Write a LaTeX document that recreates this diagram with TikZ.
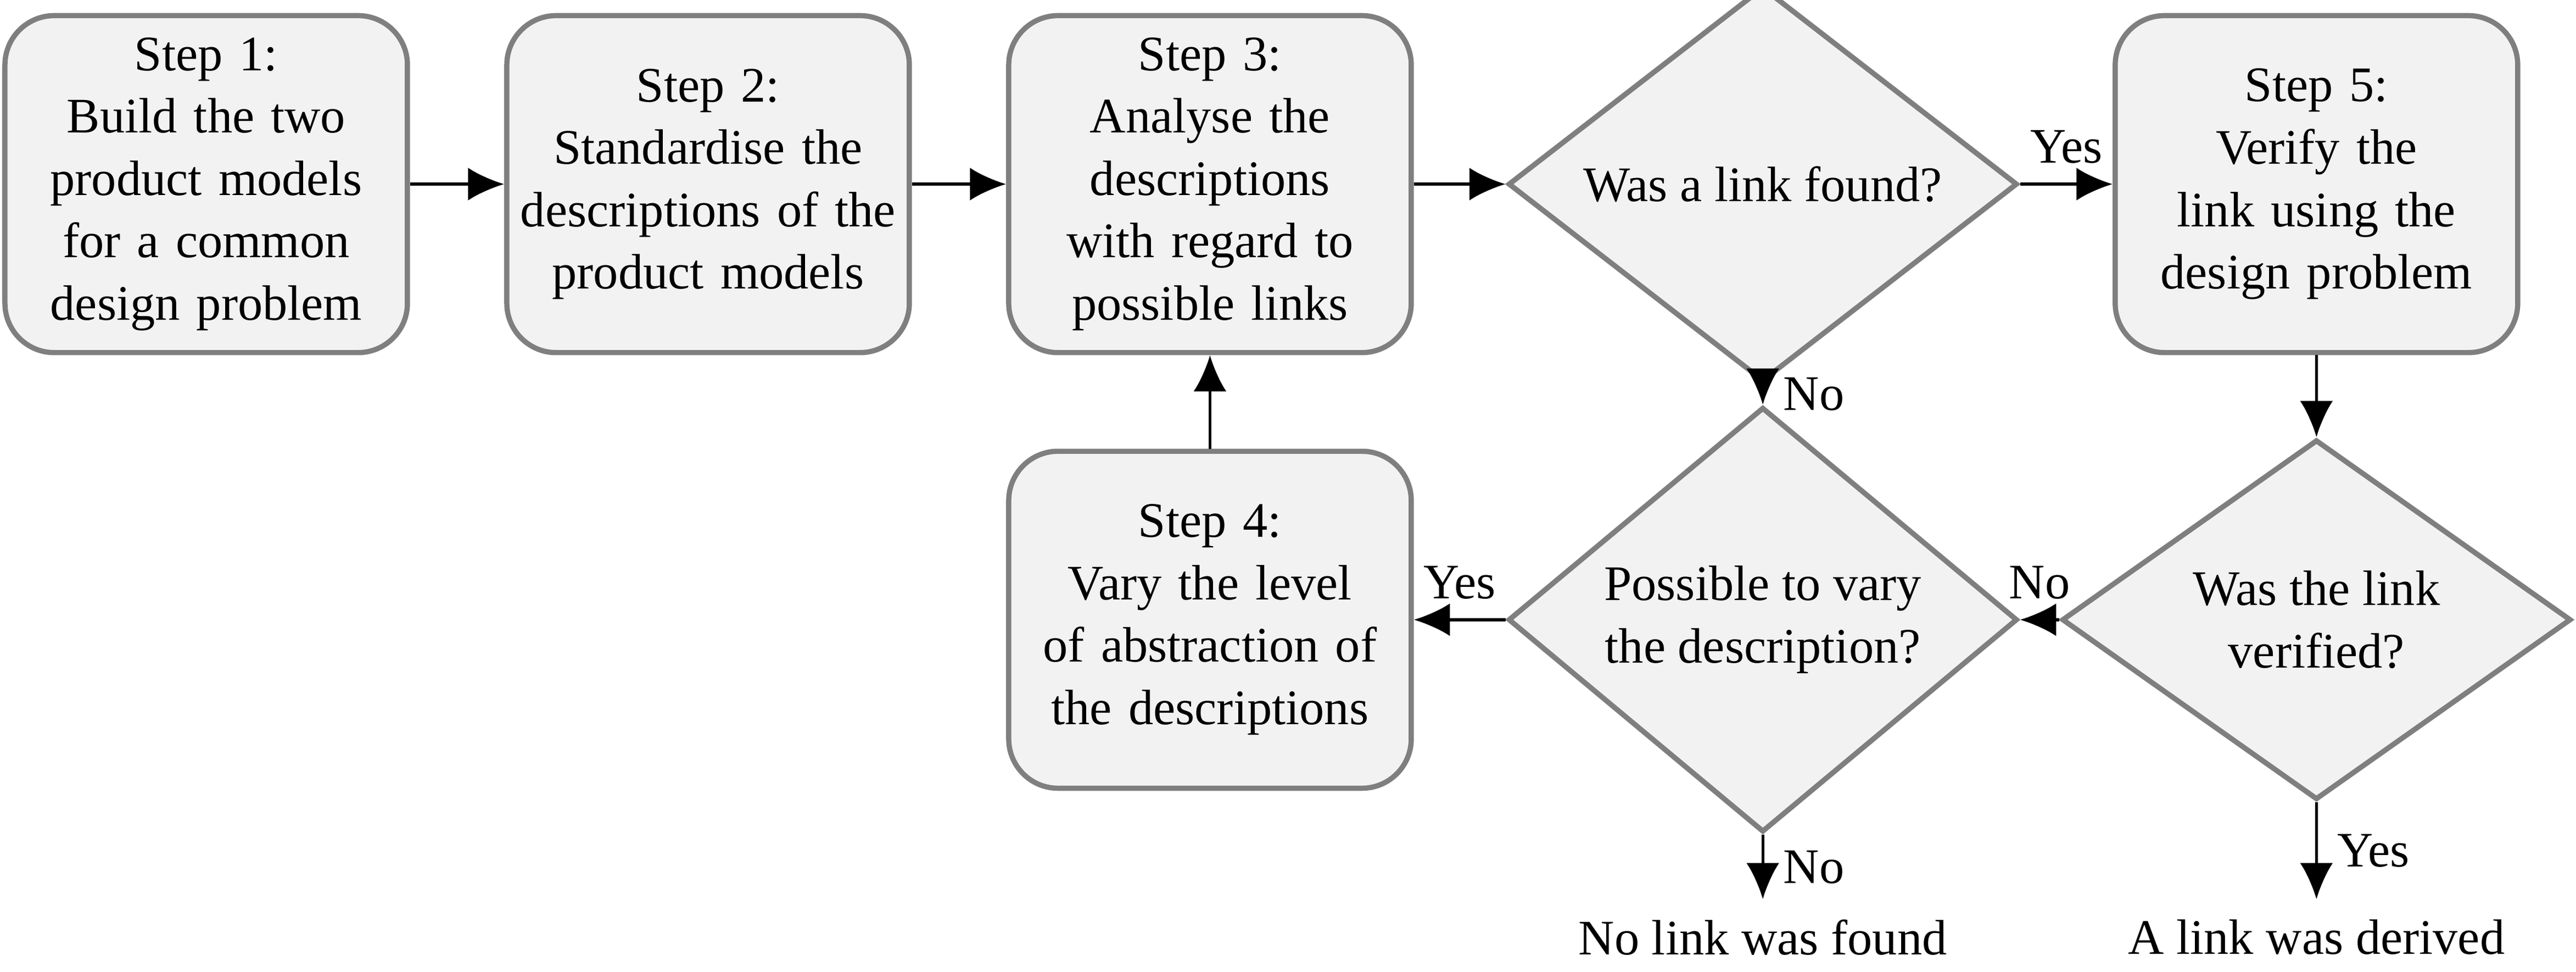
\documentclass[tikz,border=0pt]{standalone}
\usepackage{fontspec}
\setmainfont{Liberation Serif}
\usetikzlibrary{shapes.geometric,arrows.meta}
\definecolor{boxfill}{HTML}{F2F2F2}
\definecolor{boxline}{HTML}{7F7F7F}
\tikzset{
  stepbox/.style={draw=boxline, fill=boxfill, line width=0.9pt, rounded corners=0.3cm,
    minimum width=2.45cm, minimum height=2.05cm, text width=2.4cm, align=center,
    inner sep=0pt, font=\fontsize{8.6}{10.8}\selectfont},
  decision/.style={diamond, draw=boxline, fill=boxfill, line width=0.9pt,
    minimum width=3.1cm, minimum height=2.19cm, inner sep=0pt, align=center,
    font=\fontsize{8.6}{10.8}\selectfont},
  flow/.style={-{Latex[length=2.2mm,width=2mm]}, line width=0.5pt},
  lbl/.style={font=\fontsize{8.6}{10.8}\selectfont}
}
\begin{document}
\begin{tikzpicture}
  \useasboundingbox (0,0) rectangle (15.68,5.91);
  \node[stepbox] (S1) at (1.255, 4.79) {Step 1:\\Build the two product models for a common design problem};
  \node[stepbox] (S2) at (4.31, 4.79) {Step 2:\\Standardise the descriptions of the product models};
  \node[stepbox] (S3) at (7.365, 4.79) {Step 3:\\Analyse the descriptions with regard to possible links};
  \node[decision] (LF) at (10.73, 4.79) {Was a link found?};
  \node[stepbox] (S5) at (14.10, 4.79) {Step 5:\\Verify the link using the design problem};
  \node[stepbox] (S4) at (7.365, 2.14) {Step 4:\\Vary the level of abstraction of the descriptions};
  \node[decision] (PV) at (10.73, 2.14) {Possible to vary\\the description?};
  \node[decision] (LV) at (14.10, 2.14) {Was the link\\verified?};
  \node[lbl, anchor=north] (NL) at (10.73, 0.44) {No link was found};
  \node[lbl, anchor=north] (LD) at (14.10, 0.44) {A link was derived};

  \draw[flow] (S1) -- (S2);
  \draw[flow] (S2) -- (S3);
  \draw[flow] (S3) -- (LF);
  \draw[flow] (LF) -- (S5) node [midway, above, lbl] {Yes};
  \draw[flow] (LF) -- (PV) node [midway, right, lbl] {No};
  \draw[flow] (S5) -- (LV);
  \draw[flow] (LV) -- (PV) node [midway, above, lbl] {No};
  \draw[flow] (PV) -- (S4) node [midway, above, lbl] {Yes};
  \draw[flow] (S4) -- (S3);
  \draw[flow] (PV) -- (NL) node [midway, right, lbl] {No};
  \draw[flow] (LV) -- (LD) node [midway, right, lbl] {Yes};
\end{tikzpicture}
\end{document}
